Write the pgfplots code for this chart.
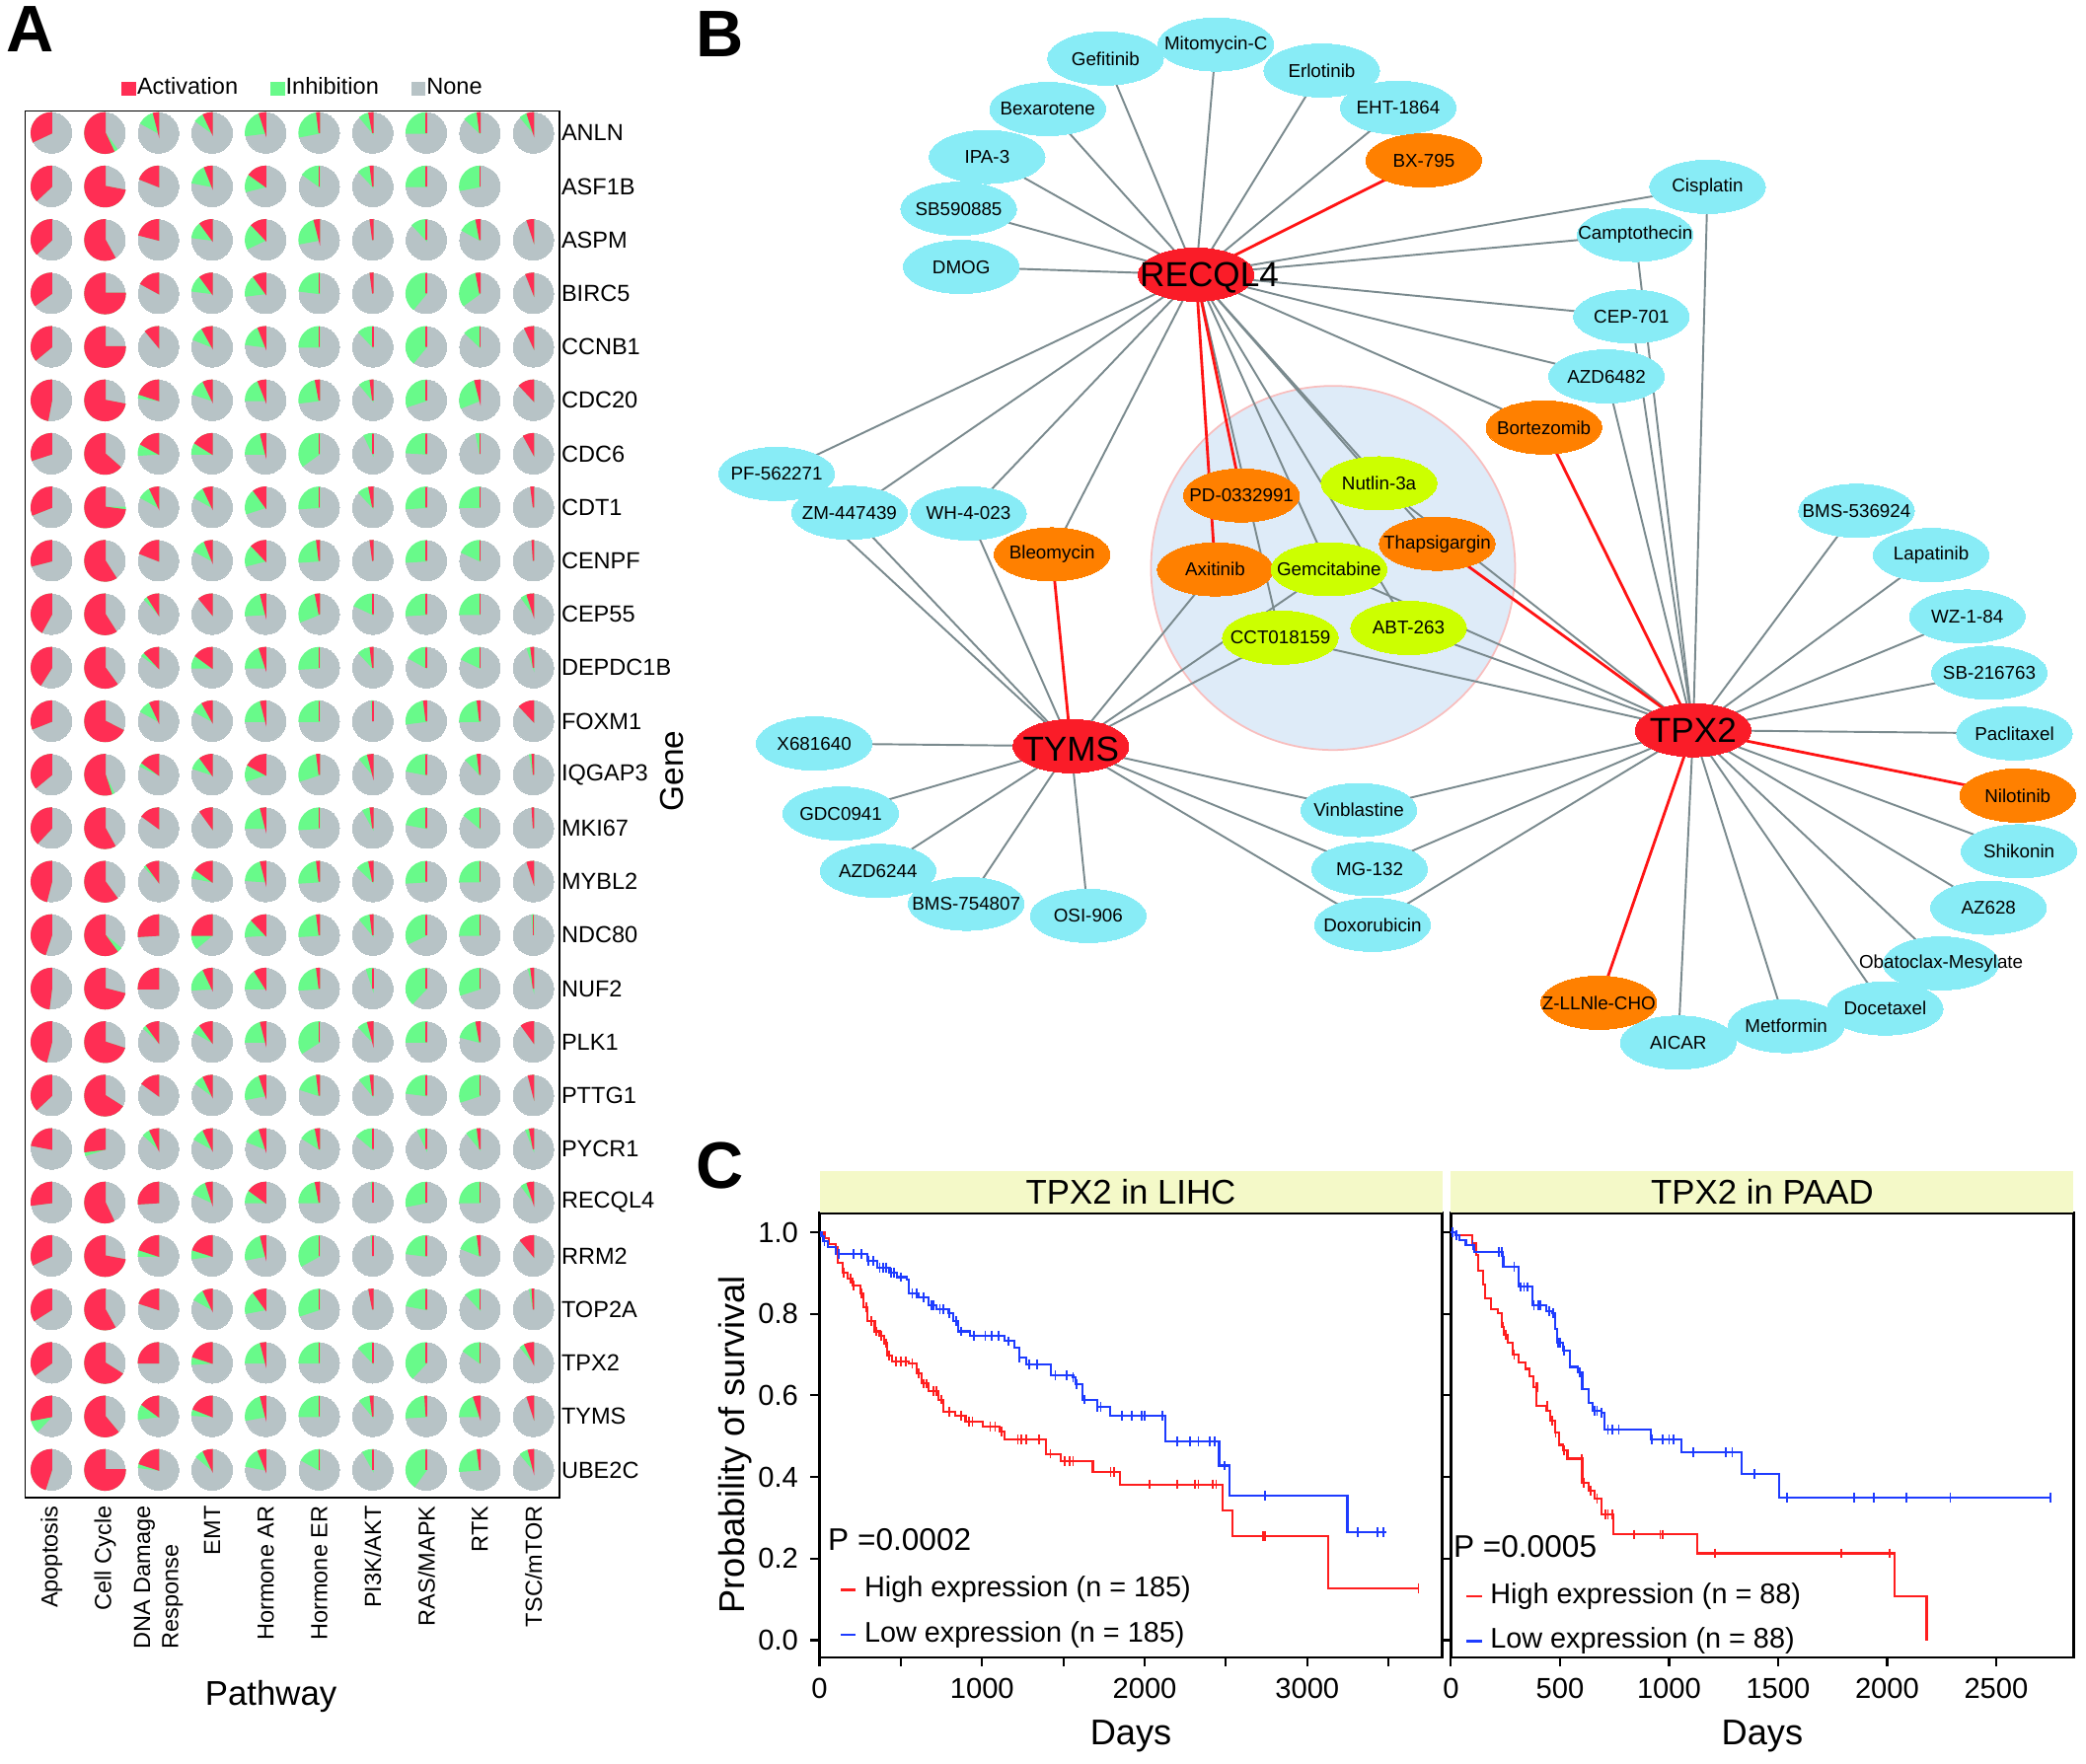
\documentclass[border=0pt]{standalone}
\usepackage{pgfplots}
\pgfplotsset{compat=1.18}
\usepackage{pgfplotstable}
\usepackage{fontspec}
\setmainfont{Liberation Sans}

\definecolor{pieact}{RGB}{255,46,84}
\definecolor{pieinh}{RGB}{104,250,138}
\definecolor{pienone}{RGB}{183,195,198}
\definecolor{ncyan}{RGB}{136,236,246}
\definecolor{norange}{RGB}{255,128,0}
\definecolor{nyellow}{RGB}{204,255,0}
\definecolor{nred}{RGB}{250,28,40}
\definecolor{edgegray}{RGB}{122,138,142}
\definecolor{edgered}{RGB}{255,20,20}
\definecolor{kmred}{RGB}{255,30,30}
\definecolor{kmblue}{RGB}{30,60,255}
\definecolor{strip}{RGB}{244,249,200}
\definecolor{bubble}{RGB}{222,235,248}
\definecolor{bubbleedge}{RGB}{248,190,190}

\pgfdeclareplotmark{blank}{}

\newcommand\fGene{\fontsize{6.7}{8.1}\selectfont}
\newcommand\fNode{\fontsize{5.35}{6.4}\selectfont}
\newcommand\fHub{\fontsize{10}{12}\selectfont}
\newcommand\fTick{\fontsize{8.3}{9.5}\selectfont}
\newcommand\fLab{\fontsize{10.3}{12}\selectfont}
\newcommand\fLeg{\fontsize{8.2}{9.5}\selectfont}
\newcommand\fLetter{\fontsize{19}{22}\selectfont\bfseries}
\def\pier{5.83pt}

% edges of the network (hub -> drug)
\newcommand\edge[4]{\addplot[color=edgegray, line width=0.55pt, forget plot] coordinates {(#1,#2) (#3,#4)};}
\newcommand\redge[4]{\addplot[color=edgered, line width=0.8pt, forget plot] coordinates {(#1,#2) (#3,#4)};}

% wedge from 12 o'clock, counter-clockwise, share = point meta
\pgfplotsset{wedge/.style={scatter, only marks, mark=blank, forget plot, point meta=explicit,
  scatter/@pre marker code/.code={%
    \pgfkeys{/pgf/fpu=true,/pgf/fpu/output format=fixed}%
    \pgfmathsetmacro\ea{90+360*\pgfplotspointmeta}%
    \pgfkeys{/pgf/fpu=false}%
    \fill[#1] (0pt,0pt) -- (90:\pier) arc[start angle=90, end angle=\ea, radius=\pier] -- cycle;
  },
  scatter/@post marker code/.code={}},
  drugnode/.style={only marks, mark=*, mark size=7.67pt, mark options={xscale=2.175, fill=#1, draw=#1, line width=0pt}},
  druglabel/.style={only marks, mark=blank, nodes near coords, point meta=explicit symbolic,
    nodes near coords style={anchor=center, font=#1, inner sep=0pt}},
  pixelaxis/.style={at={(0,0)}, anchor=south west, scale only axis,
    width=21.14cm, height=17.88cm, xmin=0, xmax=1568, ymin=0, ymax=1326.2,
    y dir=reverse, hide axis, clip=false},
}

% pie data: column, row, activation share, inhibition share
\pgfplotstableread{
c r act inh
1 1 0.32 0
2 1 0.57 0.03
3 1 0.04 0.13
4 1 0.07 0.08
5 1 0.05 0.22
6 1 0.02 0.26
7 1 0.03 0.08
8 1 0 0.25
9 1 0.02 0.11
10 1 0.05 0.06
1 2 0.37 0
2 2 0.72 0
3 2 0.19 0
4 2 0.06 0.16
5 2 0.15 0.14
6 2 0 0.15
7 2 0.02 0.10
8 2 0 0.25
9 2 0 0.28
1 3 0.37 0
2 3 0.58 0
3 3 0.21 0
4 3 0.10 0.13
5 3 0.12 0.20
6 3 0.04 0.24
7 3 0.02 0
8 3 0 0.12
9 3 0.03 0.14
10 3 0.05 0
1 4 0.35 0
2 4 0.75 0
3 4 0.17 0
4 4 0.10 0.13
5 4 0.10 0.17
6 4 0 0.23
7 4 0.02 0
8 4 0 0.39
9 4 0.03 0.32
10 4 0.06 0
1 5 0.36 0
2 5 0.75 0
3 5 0.11 0
4 5 0.08 0.11
5 5 0.06 0.17
6 5 0 0.25
7 5 0 0.12
8 5 0 0.39
9 5 0 0.13
10 5 0.07 0
1 6 0.47 0
2 6 0.72 0
3 6 0.20 0.03
4 6 0.07 0.13
5 6 0.06 0.19
6 6 0.03 0.24
7 6 0.02 0.09
8 6 0 0.30
9 6 0.04 0.27
10 6 0.12 0
1 7 0.30 0
2 7 0.635 0
3 7 0.17 0.09
4 7 0.16 0.09
5 7 0.04 0.21
6 7 0 0.35
7 7 0 0.07
8 7 0 0.24
9 7 0 0.03
10 7 0.08 0
1 8 0.31 0
2 8 0.73 0.02
3 8 0.07 0.10
4 8 0.07 0.10
5 8 0.10 0.20
6 8 0 0.26
7 8 0.03 0.09
8 8 0 0.26
9 8 0 0.25
10 8 0.02 0
1 9 0.29 0
2 9 0.59 0
3 9 0.19 0
4 9 0.06 0.11
5 9 0.12 0.17
6 9 0.02 0.24
7 9 0.02 0
8 9 0 0.26
9 9 0 0.18
10 9 0.01 0
1 10 0.42 0
2 10 0.59 0
3 10 0.09 0.03
4 10 0.11 0
5 10 0.04 0.22
6 10 0.03 0.28
7 10 0 0.18
8 10 0 0.26
9 10 0 0.25
10 10 0.05 0.05
1 11 0.41 0
2 11 0.60 0
3 11 0.12 0.03
4 11 0.15 0.10
5 11 0.05 0.20
6 11 0 0.26
7 11 0.02 0.10
8 11 0 0.17
9 11 0 0.18
10 11 0.02 0.03
1 12 0.31 0
2 12 0.675 0
3 12 0.07 0.10
4 12 0.08 0.09
5 12 0.04 0.21
6 12 0 0.25
7 12 0 0.01
8 12 0.02 0.25
9 12 0.02 0.23
10 12 0.12 0
1 13 0.36 0
2 13 0.55 0.02
3 13 0.15 0.03
4 13 0.10 0.10
5 13 0.17 0.13
6 13 0.02 0.28
7 13 0.04 0.07
8 13 0 0.22
9 13 0.02 0.10
10 13 0.01 0.02
1 14 0.38 0
2 14 0.58 0
3 14 0.15 0
4 14 0.10 0
5 14 0.04 0.21
6 14 0 0.26
7 14 0.02 0.06
8 14 0 0.22
9 14 0 0.14
10 14 0.01 0
1 15 0.46 0
2 15 0.60 0
3 15 0.10 0.02
4 15 0.15 0.07
5 15 0.04 0.20
6 15 0.02 0.24
7 15 0.03 0.10
8 15 0 0.26
9 15 0 0.25
10 15 0.05 0
1 16 0.45 0
2 16 0.60 0.04
3 16 0.26 0
4 16 0.25 0.11
5 16 0.12 0.14
6 16 0.02 0.24
7 16 0.02 0.09
8 16 0 0.32
9 16 0 0.25
10 16 0 0.01
1 17 0.48 0
2 17 0.71 0
3 17 0.25 0
4 17 0.07 0.19
5 17 0.09 0.16
6 17 0.02 0.24
7 17 0 0.05
8 17 0 0.38
9 17 0 0.30
10 17 0.02 0.02
1 18 0.46 0
2 18 0.70 0
3 18 0.10 0.03
4 18 0.10 0.07
5 18 0.04 0.21
6 18 0 0.34
7 18 0.04 0.08
8 18 0 0.25
9 18 0.03 0.18
10 18 0.10 0
1 19 0.37 0
2 19 0.66 0
3 19 0.15 0
4 19 0.07 0.08
5 19 0.05 0.23
6 19 0.02 0.18
7 19 0.02 0.09
8 19 0 0.23
9 19 0 0.30
10 19 0.04 0
1 20 0.22 0
2 20 0.27 0.03
3 20 0.07 0.06
4 20 0.07 0.10
5 20 0.05 0.14
6 20 0.03 0.13
7 20 0 0.14
8 20 0 0.07
9 20 0.02 0.09
10 20 0.03 0.03
1 21 0.27 0
2 21 0.57 0
3 21 0.26 0
4 21 0.05 0.13
5 21 0.15 0.10
6 21 0.03 0.22
7 21 0 0.01
8 21 0 0.28
9 21 0 0.25
10 21 0.05 0.05
1 22 0.32 0
2 22 0.72 0
3 22 0.20 0.05
4 22 0.20 0.07
5 22 0.04 0.24
6 22 0 0.33
7 22 0 0.01
8 22 0 0.23
9 22 0.02 0.17
10 22 0.11 0
1 23 0.34 0
2 23 0.58 0
3 23 0.20 0
4 23 0.07 0.10
5 23 0.10 0.18
6 23 0 0.30
7 23 0.03 0
8 23 0 0.22
9 23 0 0.12
10 23 0.01 0.02
1 24 0.35 0
2 24 0.66 0
3 24 0.25 0
4 24 0.20 0.06
5 24 0.04 0.21
6 24 0 0.25
7 24 0 0.12
8 24 0 0.38
9 24 0 0.15
10 24 0.07 0.04
1 25 0.28 0.10
2 25 0.61 0
3 25 0.15 0.12
4 25 0.19 0.05
5 25 0.04 0.24
6 25 0 0.25
7 25 0.02 0.09
8 25 0.01 0.25
9 25 0.05 0.20
10 25 0.05 0
1 26 0.45 0
2 26 0.75 0
3 26 0.20 0.03
4 26 0.07 0.07
5 26 0.06 0.16
6 26 0 0.17
7 26 0 0.08
8 26 0 0.40
9 26 0.02 0.24
10 26 0.04 0.07
}\pies
\pgfplotstablecreatecol[create col/expr={\thisrow{act}+\thisrow{inh}}]{cum}\pies

% network nodes, in picture pixels (y downwards)
\pgfplotstableread{
x y label
831 44 Gefitinib
914 33.5 Mitomycin-C
993.5 53 Erlotinib
1051 81 EHT-1864
787.5 82 Bexarotene
742 118 IPA-3
720.6 157 SB590885
722.6 200.7 DMOG
1283.5 140.5 Cisplatin
1229.2 176.6 Camptothecin
1226.3 238 CEP-701
1207.6 283 AZD6482
583.8 356.3 PF-562271
638.5 385.5 ZM-447439
728 386 WH-4-023
1395.5 384 BMS-536924
1451.6 417.3 Lapatinib
1478.8 463.5 WZ-1-84
1495.3 505.8 SB-216763
1514.2 551.4 Paclitaxel
1517.6 640 Shikonin
1494.7 682.5 AZ628
1459 724.3 Obatoclax-Mesylate
1342.6 771.5 Metformin
1417 758.2 Docetaxel
612 559 X681640
632 611.6 GDC0941
660 654.7 AZD6244
726.3 679.5 BMS-754807
818 688.6 OSI-906
1021.4 609 Vinblastine
1029.5 653.4 MG-132
1031.7 695.3 Doxorubicin
}\cyannodes
\pgfplotstableread{
x y label
1070.2 120.6 BX-795
1160.5 321.4 Bortezomib
790.8 416.8 Bleomycin
933.2 372.5 PD-0332991
913.4 428.1 Axitinib
1080.3 408.8 Thapsigargin
1516.6 598.1 Nilotinib
1201.8 753.9 Z-LLNle-CHO
}\orangenodes
\pgfplotstableread{
x y label
1261.5 783.8 AICAR
}\cyanlate
\pgfplotstableread{
x y label
1036.6 363.4 Nutlin-3a
999 428 Gemcitabine
962.4 479.4 CCT018159
1058.8 472.1 ABT-263
}\yellownodes
\pgfplotstableread{
x y label
899 206.5 RECQL4
805 561 TYMS
1272.7 549 TPX2
}\hubnodes
\pgfplotstableread{
x y label
909 208.7 RECQL4
805 563 TYMS
1272.7 549 TPX2
}\hublabels

\pgfplotsset{kmstyle/.style={
  scale only axis, width=6.31cm, height=4.503cm,
  ymin=-0.042, ymax=1.047,
  ytick={0,0.2,0.4,0.6,0.8,1.0},
  tick align=outside, major tick length=2.6pt, tick pos=left,
  tick style={black, line width=0.6pt},
  axis line style={line width=0.75pt},
  ticklabel style={font=\fTick},
  xlabel style={font=\fLab, at={(axis description cs:0.5,-0.178)}, anchor=center},
  ylabel style={font=\fLab, at={(axis description cs:-0.1357,0.479)}, anchor=center},
  clip=false,
  legend cell align=left,
  legend image code/.code={\draw[##1, line width=0.7pt] (0pt,0pt) -- (4.4pt,0pt);},
  legend style={draw=none, fill=none, font=\fLeg, inner sep=0pt, row sep=4.9pt,
    nodes={inner sep=0pt, text height=6pt, text depth=2pt},
    /tikz/every odd column/.append style={column sep=2.1pt}},
}}

\begin{document}
\begin{tikzpicture}
\useasboundingbox (0,0) rectangle (21.14cm,17.88cm);

% ---------- bottom layer: shaded circle of panel B ----------
\begin{axis}[pixelaxis]
\addplot[only marks, mark=*, mark size=52.5pt, mark options={fill=bubble, draw=bubbleedge, line width=0.5pt}] coordinates {(1002,427)};
\end{axis}

% ---------- network (panel B) and panel letters ----------
\begin{axis}[pixelaxis]
% RECQL4
\edge{899}{206.5}{831}{44}
\edge{899}{206.5}{914}{33.5}
\edge{899}{206.5}{993.5}{53}
\edge{899}{206.5}{1051}{81}
\edge{899}{206.5}{787.5}{82}
\edge{899}{206.5}{742}{118}
\edge{899}{206.5}{720.6}{157}
\edge{899}{206.5}{722.6}{200.7}
\edge{899}{206.5}{1283.5}{140.5}
\edge{899}{206.5}{1229.2}{176.6}
\edge{899}{206.5}{1226.3}{238}
\edge{899}{206.5}{1207.6}{283}
\edge{899}{206.5}{1160.5}{321.4}
\edge{899}{206.5}{583.8}{356.3}
\edge{899}{206.5}{638.5}{385.5}
\edge{899}{206.5}{728}{386}
\edge{899}{206.5}{790.8}{416.8}
\edge{899}{206.5}{1036.6}{363.4}
\edge{899}{206.5}{999}{428}
\edge{899}{206.5}{1080.3}{408.8}
\edge{899}{206.5}{1058.8}{472.1}
\edge{899}{206.5}{962.4}{479.4}
% TYMS
\edge{805}{561}{612}{559}
\edge{805}{561}{632}{611.6}
\edge{805}{561}{660}{654.7}
\edge{805}{561}{726.3}{679.5}
\edge{805}{561}{818}{688.6}
\edge{805}{561}{1021.4}{609}
\edge{805}{561}{1029.5}{653.4}
\edge{805}{561}{1031.7}{695.3}
\edge{805}{561}{583.8}{356.3}
\edge{805}{561}{638.5}{385.5}
\edge{805}{561}{728}{386}
\edge{805}{561}{962.4}{479.4}
\edge{805}{561}{913.4}{428.1}
\edge{805}{561}{999}{428}
% TPX2
\edge{1272.7}{549}{1283.5}{140.5}
\edge{1272.7}{549}{1229.2}{176.6}
\edge{1272.7}{549}{1226.3}{238}
\edge{1272.7}{549}{1207.6}{283}
\edge{1272.7}{549}{1395.5}{384}
\edge{1272.7}{549}{1451.6}{417.3}
\edge{1272.7}{549}{1478.8}{463.5}
\edge{1272.7}{549}{1495.3}{505.8}
\edge{1272.7}{549}{1514.2}{551.4}
\edge{1272.7}{549}{1517.6}{640}
\edge{1272.7}{549}{1494.7}{682.5}
\edge{1272.7}{549}{1459}{724.3}
\edge{1272.7}{549}{1417}{758.2}
\edge{1272.7}{549}{1342.6}{771.5}
\edge{1272.7}{549}{1261.5}{783.8}
\edge{1272.7}{549}{1021.4}{609}
\edge{1272.7}{549}{1029.5}{653.4}
\edge{1272.7}{549}{1031.7}{695.3}
\edge{1272.7}{549}{1058.8}{472.1}
\edge{1272.7}{549}{999}{428}
\edge{1272.7}{549}{962.4}{479.4}
\edge{1272.7}{549}{1036.6}{363.4}
% red links
\redge{899}{206.5}{1070.2}{120.6}
\redge{899}{206.5}{933.2}{372.5}
\redge{899}{206.5}{913.4}{428.1}
\redge{805}{561}{790.8}{416.8}
\redge{1272.7}{549}{1160.5}{321.4}
\redge{1272.7}{549}{1080.3}{408.8}
\redge{1272.7}{549}{1516.6}{598.1}
\redge{1272.7}{549}{1201.8}{753.9}
% nodes
\addplot[drugnode=ncyan] table[x=x,y=y] {\cyannodes};
\addplot[drugnode=norange] table[x=x,y=y] {\orangenodes};
\addplot[drugnode=ncyan] table[x=x,y=y] {\cyanlate};
\addplot[drugnode=nyellow] table[x=x,y=y] {\yellownodes};
\addplot[drugnode=nred] table[x=x,y=y] {\hubnodes};
\addplot[druglabel=\fNode] table[x=x,y=y,meta=label] {\cyannodes};
\addplot[druglabel=\fNode] table[x=x,y=y,meta=label] {\orangenodes};
\addplot[druglabel=\fNode] table[x=x,y=y,meta=label] {\cyanlate};
\addplot[druglabel=\fNode] table[x=x,y=y,meta=label] {\yellownodes};
\addplot[druglabel=\fHub] table[x=x,y=y,meta=label] {\hublabels};
\node[font=\fLetter] at (axis cs:23,22) {A};
\node[font=\fLetter] at (axis cs:541.5,25.6) {B};
\node[font=\fLetter] at (axis cs:541,876) {C};
\end{axis}

% ---------- panel A: pie grid ----------
\begin{axis}[at={(0.2548cm,2.699cm)}, anchor=south west, scale only axis,
  width=5.414cm, height=14.055cm,
  xmin=0.508, xmax=10.484, ymin=0.5896, ymax=26.52, y dir=reverse,
  xtick={1,...,10}, ytick={1,...,26},
  xticklabels={Apoptosis,Cell Cycle,{DNA Damage\\Response},EMT,Hormone AR,Hormone ER,PI3K/AKT,RAS/MAPK,RTK,TSC/mTOR},
  yticklabels={ANLN,ASF1B,ASPM,BIRC5,CCNB1,CDC20,CDC6,CDT1,CENPF,CEP55,DEPDC1B,FOXM1,IQGAP3,MKI67,MYBL2,NDC80,NUF2,PLK1,PTTG1,PYCR1,RECQL4,RRM2,TOP2A,TPX2,TYMS,UBE2C},
  yticklabel pos=right, major tick length=0pt,
  axis line style={line width=0.45pt},
  xticklabel style={font=\fGene, rotate=90, anchor=east, align=left, inner sep=0pt},
  xticklabel shift=2.2pt,
  yticklabel style={font=\fGene, anchor=west, inner sep=0pt},
  yticklabel shift=0.4pt,
  xlabel={Pathway}, ylabel={Gene},
  xlabel style={font=\fontsize{9.9}{12}\selectfont, at={(axis description cs:0.46,-0.143)}, anchor=center},
  ylabel style={font=\fontsize{9.5}{11}\selectfont, at={(axis description cs:1.21,0.524)}, anchor=center},
  legend columns=-1,
  legend style={at={(axis description cs:0.519,1.016)}, anchor=center, draw=none, fill=none,
    font=\fGene, inner sep=0pt, nodes={inner sep=0.3pt},
    /tikz/every even column/.append style={column sep=9pt}},
  clip=false]
\addplot[only marks, mark=*, mark size=\pier, mark options={fill=pienone, draw=pienone, line width=0pt}, forget plot]
  table[x=c, y=r] {\pies};
\addplot[wedge=pieinh] table[x=c, y=r, meta=cum] {\pies};
\addplot[wedge=pieact] table[x=c, y=r, meta=act] {\pies};
\addlegendimage{legend image code/.code={\fill[pieact] (0pt,-1.9pt) rectangle (3.8pt,1.9pt);}}
\addlegendentry{Activation}
\addlegendimage{legend image code/.code={\fill[pieinh] (0pt,-1.9pt) rectangle (3.8pt,1.9pt);}}
\addlegendentry{Inhibition}
\addlegendimage{legend image code/.code={\fill[pienone] (0pt,-1.9pt) rectangle (3.8pt,1.9pt);}}
\addlegendentry{None}
\end{axis}

% ---------- panel C: TPX2 in LIHC ----------
\begin{axis}[kmstyle, at={(8.305cm,1.081cm)}, anchor=south west,
  xmin=0, xmax=3830,
  xtick={0,500,...,3500}, xticklabels={0,,1000,,2000,,3000,},
  yticklabels={0.0,0.2,0.4,0.6,0.8,1.0},
  xlabel={Days}, ylabel={Probability of survival},
  legend style={at={(axis description cs:0.031,0.018)}, anchor=south west}]
\fill[strip] (rel axis cs:0,1.002) rectangle (rel axis cs:1,1.0955);
\node[font=\fontsize{9.9}{12}\selectfont] at (rel axis cs:0.5,1.048) {TPX2 in LIHC};
\addplot[kmred, line width=0.6pt, const plot mark left] coordinates {
(0,1)(30,0.985)(60,0.97)(99,0.954)(114,0.925)(145,0.9)(175,0.887)(205,0.87)(250,0.85)(271,0.816)(295,0.782)(340,0.757)(370,0.747)(400,0.728)(416,0.698)(446,0.683)(551,0.678)(596,0.654)(627,0.629)(672,0.610)(732,0.590)(762,0.560)(837,0.551)(898,0.536)(1003,0.523)(1108,0.511)(1139,0.492)(1395,0.457)(1485,0.438)(1681,0.413)(1846,0.382)(2479,0.318)(2539,0.256)(3127,0.128)(3684,0.128)};
\addlegendentry{High expression (n = 185)}
\addplot[kmblue, line width=0.6pt, const plot mark left] coordinates {
(0,1)(12,0.99)(24,0.978)(54,0.964)(99,0.946)(295,0.929)(355,0.914)(431,0.900)(476,0.890)(536,0.885)(551,0.851)(611,0.841)(672,0.821)(717,0.811)(792,0.801)(822,0.782)(852,0.757)(928,0.747)(1139,0.733)(1199,0.718)(1229,0.693)(1274,0.677)(1425,0.649)(1560,0.644)(1575,0.627)(1620,0.590)(1711,0.572)(1786,0.551)(2127,0.487)(2458,0.428)(2524,0.354)(3247,0.265)(3488,0.265)};
\addlegendentry{Low expression (n = 185)}
\addplot[kmred, only marks, mark=|, mark size=1.4pt, mark options={line width=0.5pt}, forget plot] coordinates {
(110,0.954)(150,0.9)(190,0.887)(210,0.87)(260,0.85)(290,0.816)(320,0.782)(350,0.757)(380,0.747)(410,0.728)(430,0.698)(470,0.683)(500,0.683)(530,0.683)(570,0.678)(610,0.654)(640,0.629)(660,0.629)(700,0.610)(720,0.610)(750,0.590)(800,0.560)(870,0.551)(920,0.536)(940,0.536)(1050,0.523)(1080,0.523)(1120,0.511)(1220,0.492)(1240,0.492)(1270,0.492)(1350,0.492)(1420,0.457)(1510,0.438)(1540,0.438)(1560,0.438)(1790,0.413)(1810,0.413)(2030,0.382)(2200,0.382)(2310,0.382)(2330,0.382)(2420,0.382)(2440,0.382)(2730,0.256)(2740,0.256)(3684,0.128)};
\addplot[kmblue, only marks, mark=|, mark size=1.4pt, mark options={line width=0.5pt}, forget plot] coordinates {
(30,0.978)(120,0.946)(210,0.946)(260,0.946)(300,0.929)(330,0.929)(370,0.914)(390,0.914)(410,0.914)(440,0.900)(460,0.900)(500,0.890)(570,0.851)(600,0.851)(640,0.841)(690,0.821)(700,0.821)(740,0.811)(760,0.811)(800,0.801)(840,0.782)(870,0.757)(950,0.747)(1020,0.747)(1060,0.747)(1100,0.747)(1160,0.733)(1230,0.693)(1290,0.677)(1340,0.677)(1450,0.649)(1520,0.649)(1560,0.644)(1580,0.627)(1630,0.590)(1710,0.572)(1730,0.572)(1860,0.551)(1920,0.551)(1980,0.551)(2000,0.551)(2110,0.551)(2200,0.487)(2280,0.487)(2330,0.487)(2400,0.487)(2430,0.487)(2490,0.428)(2740,0.354)(3310,0.265)(3430,0.265)(3470,0.265)};
\node[anchor=west, inner sep=0pt, font=\fontsize{9}{10}\selectfont] at (rel axis cs:0.0126,0.264) {P =0.0002};
\end{axis}

% ---------- panel C: TPX2 in PAAD ----------
\begin{axis}[kmstyle, at={(14.704cm,1.081cm)}, anchor=south west,
  xmin=0, xmax=2855,
  xtick={0,500,...,2500}, xticklabels={0,500,1000,1500,2000,2500},
  yticklabels={},
  xlabel={Days},
  legend style={at={(axis description cs:0.022,0.004)}, anchor=south west}]
\fill[strip] (rel axis cs:0,1.002) rectangle (rel axis cs:1,1.0955);
\node[font=\fontsize{9.9}{12}\selectfont] at (rel axis cs:0.5,1.048) {TPX2 in PAAD};
\addplot[kmred, line width=0.6pt, const plot mark left] coordinates {
(0,1)(19,0.993)(97,0.974)(117,0.944)(126,0.905)(146,0.871)(155,0.837)(184,0.812)(214,0.802)(233,0.768)(243,0.749)(262,0.729)(282,0.700)(311,0.680)(340,0.665)(359,0.646)(379,0.621)(392,0.575)(437,0.563)(456,0.538)(476,0.509)(495,0.479)(515,0.465)(534,0.445)(602,0.386)(631,0.367)(660,0.347)(689,0.308)(744,0.259)(1130,0.213)(2033,0.108)(2181,0.0)};
\addlegendentry{High expression (n = 88)}
\addplot[kmblue, line width=0.6pt, const plot mark left] coordinates {
(0,1)(19,0.993)(39,0.980)(68,0.969)(107,0.951)(237,0.939)(240,0.915)(311,0.866)(373,0.822)(437,0.807)(466,0.802)(476,0.763)(485,0.729)(515,0.709)(544,0.670)(583,0.656)(602,0.616)(631,0.582)(650,0.563)(689,0.558)(703,0.516)(917,0.492)(1058,0.460)(1334,0.408)(1505,0.349)(2748,0.349)};
\addlegendentry{Low expression (n = 88)}
\addplot[kmred, only marks, mark=|, mark size=1.4pt, mark options={line width=0.5pt}, forget plot] coordinates {
(240,0.768)(250,0.749)(290,0.700)(390,0.621)(395,0.621)(440,0.575)(465,0.538)(480,0.509)(520,0.465)(600,0.445)(610,0.386)(640,0.367)(670,0.347)(710,0.308)(720,0.308)(740,0.308)(840,0.259)(960,0.259)(970,0.259)(1210,0.213)(1790,0.213)(2010,0.213)};
\addplot[kmblue, only marks, mark=|, mark size=1.4pt, mark options={line width=0.5pt}, forget plot] coordinates {
(8,1.0)(25,0.993)(100,0.969)(220,0.951)(235,0.951)(290,0.915)(320,0.866)(335,0.866)(350,0.866)(380,0.822)(400,0.822)(410,0.822)(450,0.807)(470,0.802)(490,0.729)(500,0.729)(520,0.709)(590,0.656)(660,0.563)(670,0.563)(690,0.558)(720,0.516)(740,0.516)(770,0.516)(920,0.492)(970,0.492)(1000,0.492)(1020,0.492)(1110,0.460)(1260,0.460)(1290,0.460)(1390,0.408)(1540,0.349)(1850,0.349)(1940,0.349)(2090,0.349)(2290,0.349)(2750,0.349)};
\node[anchor=west, inner sep=0pt, font=\fontsize{9}{10}\selectfont] at (rel axis cs:0.003,0.25) {P =0.0005};
\end{axis}
\end{tikzpicture}
\end{document}
